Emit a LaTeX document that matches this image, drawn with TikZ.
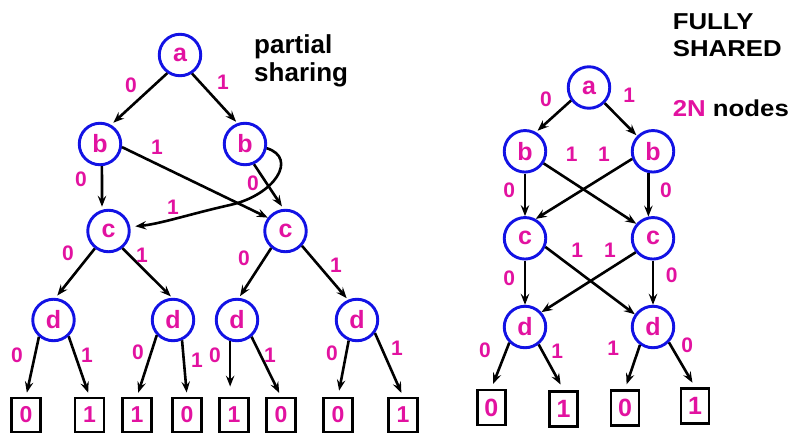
\documentclass[tikz,border=0pt]{standalone}
\usepackage{fontspec}
\setmainfont{Liberation Sans}
\newfontfamily\widesans{Liberation Sans}[FakeStretch=1.12]
\usetikzlibrary{arrows.meta}
\definecolor{bddpink}{RGB}{226,18,160}
\definecolor{bddblue}{RGB}{18,18,228}
\tikzset{
  vnode/.style={circle, draw=bddblue, line width=2.9pt, minimum size=41.5pt,
    inner sep=0pt, text=bddpink, font=\fontsize{25}{25}\selectfont\bfseries},
  tbox/.style={rectangle, draw=black, line width=2.9pt, minimum width=29pt,
    minimum height=34pt, inner sep=0pt, text=bddpink,
    font=\fontsize{23}{23}\selectfont\bfseries},
  tboxR/.style={tbox, minimum width=28pt, minimum height=35pt,
    font=\fontsize{25}{25}\selectfont\bfseries},
  link/.style={-{Stealth[length=11pt,width=8.5pt,inset=4pt]}, line width=2.6pt, black},
  elab/.style={text=bddpink, font=\fontsize{21}{21}\selectfont\bfseries, inner sep=0pt},
  headtxt/.style={anchor=base west, inner sep=0pt, font=\fontsize{26}{26}\selectfont\bfseries},
  headtxtR/.style={anchor=base west, inner sep=0pt, font=\widesans\fontsize{23}{23}\selectfont\bfseries},
}
\begin{document}
\begin{tikzpicture}[x=1pt, y=-1pt]
\useasboundingbox (0,0) rectangle (796,434);

% ---------- partially shared decision diagram ----------
\node[vnode] (a)  at (180,55)  {a};
\node[vnode] (b1) at (100,144) {b};
\node[vnode] (b2) at (245,144) {b};
\node[vnode] (c1) at (108.5,231) {c};
\node[vnode] (c2) at (285.5,231) {c};
\node[vnode] (d1) at (53.5,320) {d};
\node[vnode] (d2) at (173,320) {d};
\node[vnode] (d3) at (237,320) {d};
\node[vnode] (d4) at (357,320) {d};

\node[tbox] (l1) at (26,415)  {0};
\node[tbox] (l2) at (89.5,415) {1};
\node[tbox] (l3) at (137,415) {1};
\node[tbox] (l4) at (187,415) {0};
\node[tbox] (l5) at (234,415) {1};
\node[tbox] (l6) at (281,415) {0};
\node[tbox] (l7) at (338,415) {0};
\node[tbox] (l8) at (403,415) {1};

\draw[link, shorten >=3pt] (a.235) -- (b1.60);
\draw[link, shorten >=2pt] (a.-57) -- (b2.110);
\draw[link, shorten >=3pt] (b1.-85) -- (c1.107);
\draw[link] (b1.-8) -- (c2.143);
\draw[link, shorten >=3pt] (b2.-66) -- (c2.95);
\draw[link, shorten >=5pt] (b2.-11) .. controls (298,158) and (275,195) .. (230,205)
      .. controls (190,214) and (160,224) .. (c1.11);
\draw[link, shorten >=3pt] (c1.232) -- (d1.85);
\draw[link, shorten >=2pt] (c1.-51) -- (d2.92);
\draw[link, shorten >=2pt] (c2.230) -- (d3.85);
\draw[link, shorten >=2pt] (c2.-42) -- (d4.114);

\draw[link, shorten >=4pt] (d1.229) -- (l1.north);
\draw[link, shorten >=4pt] (d1.-47) -- (l2.north);
\draw[link, shorten >=4pt] (d2.223) -- (l3.north);
\draw[link, shorten >=4pt] (d2.-66) -- (l4.north);
\draw[link, shorten >=10pt] (d3.252) -- (l5.north -| d3.252);
\draw[link, shorten >=4pt] (d3.-49) -- (l6.north);
\draw[link, shorten >=6pt] (d4.248) -- (l7.north);
\draw[link, shorten >=4pt] (d4.-36) -- (l8.north);

\node[elab] (ea0) at (131,85) {0};
\node[elab] (ea1) at (223,82) {1};
\node[elab] (eb11) at (157,147) {1};
\node[elab] (eb10) at (81,179) {0};
\node[elab] (eb20) at (253,183) {0};
\node[elab] (eb21) at (173,207) {1};
\node[elab] (ec10) at (68,253) {0};
\node[elab] (ec11) at (142,255) {1};
\node[elab] (ec20) at (244,258) {0};
\node[elab] (ec21) at (336,265) {1};
\node[elab] (ed10) at (17,355) {0};
\node[elab] (ed11) at (87,355) {1};
\node[elab] (ed20) at (138,352) {0};
\node[elab] (ed21) at (197,360) {1};
\node[elab] (ed30) at (215,355) {0};
\node[elab] (ed31) at (270,355) {1};
\node[elab] (ed40) at (332,353) {0};
\node[elab] (ed41) at (397,348) {1};

\node[headtxt] (ps1) at (254,53) {partial};
\node[headtxt] (ps2) at (254,81) {sharing};

% ---------- fully shared decision diagram ----------
\node[vnode] (ra)  at (589,87.5)  {a};
\node[vnode] (rb1) at (525,151.3) {b};
\node[vnode] (rb2) at (653,151.3) {b};
\node[vnode] (rc1) at (525,238.3) {c};
\node[vnode] (rc2) at (653,238.3) {c};
\node[vnode] (rd1) at (525,327) {d};
\node[vnode] (rd2) at (653,327) {d};

\node[tboxR] (rl1) at (491.3,407.5) {0};
\node[tboxR] (rl2) at (563.5,408.7) {1};
\node[tboxR] (rl3) at (625,408) {0};
\node[tboxR] (rl4) at (695,406) {1};

\draw[link, shorten >=2pt] (ra.216) -- (rb1.60);
\draw[link, shorten >=1pt] (ra.-45) -- (rb2.136);
\draw[link] (rb1.-90) -- (rc1.90);
\draw[link] (rb1.-33) -- (rc2.139);
\draw[link] (rb2.200) -- (rc1.61);
\draw[link] (rb2.-102) -- (rc2.102);
\draw[link] (rc1.-90) -- (rd1.90);
\draw[link] (rc1.-23) -- (rd2.145);
\draw[link] (rc2.219) -- (rd1.42);
\draw[link] (rc2.-90) -- (rd2.90);
\draw[link, shorten >=5pt] (rd1.225) -- (rl1.north);
\draw[link, shorten >=6pt] (rd1.-52) -- (rl2.north);
\draw[link, shorten >=5pt] (rd2.234) -- (rl3.north);
\draw[link, shorten >=5pt] (rd2.-44) -- (rl4.north);

\node[elab] (fa0) at (546,99) {0};
\node[elab] (fa1) at (629.3,95) {1};
\node[elab] (fb11) at (571.7,154) {1};
\node[elab] (fb21) at (604,154) {1};
\node[elab] (fb10) at (509.3,190.7) {0};
\node[elab] (fb20) at (666,190.7) {0};
\node[elab] (fc11) at (577.3,250.7) {1};
\node[elab] (fc21) at (610,250.7) {1};
\node[elab] (fc10) at (509.3,278.3) {0};
\node[elab] (fc20) at (671.7,275) {0};
\node[elab] (fd10) at (485,350) {0};
\node[elab] (fd11) at (557.3,351.7) {1};
\node[elab] (fd21) at (613.3,348.3) {1};
\node[elab] (fd20) at (687.3,345) {0};

\node[headtxtR] (fs1) at (672.7,29.3) {FULLY};
\node[headtxtR] (fs2) at (672.7,56.7) {SHARED};
\node[headtxtR] (fs3) at (672.7,116.7) {\textcolor{bddpink}{2N} nodes};
\end{tikzpicture}
\end{document}
